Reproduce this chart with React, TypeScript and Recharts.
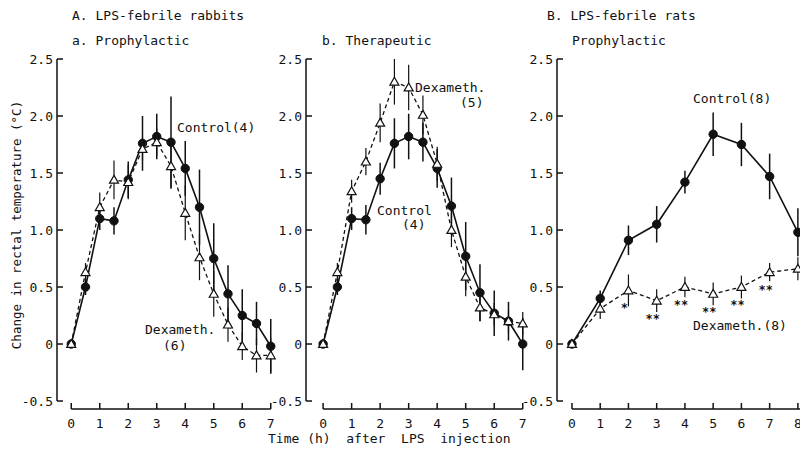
import React from 'react';
import { LineChart, Line, XAxis, YAxis, ErrorBar, ReferenceLine, LabelList } from 'recharts';

// time points (h after LPS injection)
const rabbitTimes = [0, 0.5, 1, 1.5, 2, 2.5, 3, 3.5, 4, 4.5, 5, 5.5, 6, 6.5, 7];
const ratTimes = [0, 1, 2, 3, 4, 5, 6, 7, 8];

// A-a. rabbits, prophylactic
const prophCtrl = [0, 0.5, 1.1, 1.08, 1.44, 1.76, 1.82, 1.77, 1.54, 1.2, 0.75, 0.44, 0.25, 0.18, -0.02];
const prophCtrlSE = [0, 0.07, 0.1, 0.12, 0.16, 0.24, 0.2, 0.4, 0.24, 0.33, 0.31, 0.25, 0.23, 0.19, 0.24];
const prophDex = [0, 0.63, 1.2, 1.44, 1.42, 1.71, 1.77, 1.56, 1.15, 0.76, 0.44, 0.17, -0.02, -0.1, -0.1];
const prophDexSE = [0, 0.08, 0.13, 0.17, 0.15, 0.1, 0.12, 0.2, 0.24, 0.2, 0.2, 0.15, 0.12, 0.15, 0.15];

// A-b. rabbits, therapeutic
const therCtrl = [0, 0.5, 1.1, 1.09, 1.45, 1.76, 1.82, 1.77, 1.54, 1.21, 0.77, 0.45, 0.27, 0.2, 0];
const therCtrlSE = [0, 0.07, 0.1, 0.13, 0.14, 0.22, 0.2, 0.17, 0.17, 0.25, 0.3, 0.25, 0.2, 0.17, 0.23];
const therDex = [0, 0.63, 1.34, 1.6, 1.94, 2.3, 2.25, 2.01, 1.58, 1.0, 0.59, 0.32, 0.26, 0.2, 0.18];
const therDexSE = [0, 0.08, 0.1, 0.12, 0.17, 0.2, 0.2, 0.17, 0.15, 0.15, 0.17, 0.12, 0.1, 0.1, 0.1];

// B. rats, prophylactic
const ratCtrl = [0, 0.4, 0.91, 1.05, 1.42, 1.84, 1.75, 1.47, 0.98];
const ratCtrlSE = [0, 0.07, 0.13, 0.16, 0.1, 0.19, 0.19, 0.2, 0.21];
const ratDex = [0, 0.31, 0.47, 0.38, 0.5, 0.44, 0.5, 0.63, 0.66];
const ratDexSE = [0, 0.09, 0.14, 0.1, 0.09, 0.1, 0.1, 0.08, 0.1];
const ratSig = ['', '', '*', '**', '**', '**', '**', '**', ''];

const yTicks = [-0.5, 0, 0.5, 1.0, 1.5, 2.0, 2.5];
const rabbitTicks = [0, 1, 2, 3, 4, 5, 6, 7];
const ratTicks = [0, 1, 2, 3, 4, 5, 6, 7, 8];

const INK = '#111';
const FONT = '"DejaVu Sans Mono", "Liberation Mono", monospace';
const Y_MIN = -0.57;

const rabbitRows = (ctrl: number[], ctrlSE: number[], dex: number[], dexSE: number[]) =>
  rabbitTimes.map((t, i) => ({ t, ctrl: ctrl[i], ctrlSE: ctrlSE[i], dex: dex[i], dexSE: dexSE[i] }));

const ratRows = ratTimes.map((t, i) => ({
  t, ctrl: ratCtrl[i], ctrlSE: ratCtrlSE[i], dex: ratDex[i], dexSE: ratDexSE[i], sig: ratSig[i],
}));

const XTick = (props: any) => {
  const { x, y, payload } = props;
  return (
    <g>
      <line x1={x} x2={x} y1={y - 6} y2={y} stroke={INK} strokeWidth={1.5} />
      <text x={x} y={y + 14} textAnchor="middle" dominantBaseline="central" fontFamily={FONT} fontSize={13} fill={INK}>
        {payload.value}
      </text>
    </g>
  );
};

const YTick = (props: any) => {
  const { x, y, payload } = props;
  const v = payload.value;
  return (
    <g>
      <line x1={x} x2={x + 6} y1={y} y2={y} stroke={INK} strokeWidth={1.5} />
      <text x={x - 4} y={y} textAnchor="end" dominantBaseline="central" fontFamily={FONT} fontSize={13} fill={INK}>
        {v === 0 ? '0' : v.toFixed(1)}
      </text>
    </g>
  );
};

const FilledDot = (props: any) => {
  const { cx, cy, index } = props;
  if (cx == null || cy == null) return <g key={index} />;
  return <circle key={index} cx={cx} cy={cy} r={4.2} fill={INK} stroke={INK} />;
};

const TriangleDot = (props: any) => {
  const { cx, cy, index } = props;
  if (cx == null || cy == null) return <g key={index} />;
  const s = 4.5;
  return (
    <path
      key={index}
      d={`M${cx},${cy - s} L${cx + s},${cy + s * 0.75} L${cx - s},${cy + s * 0.75} Z`}
      fill="#fff"
      stroke={INK}
      strokeWidth={1.2}
    />
  );
};

const SigLabel = (props: any) => {
  const { x, y, value } = props;
  if (!value) return null;
  return (
    <text x={x - 4} y={y + 18} textAnchor="middle" dominantBaseline="central" fontFamily={FONT}
      fontSize={12} fontWeight="bold" style={{ fill: INK }}>
      {value}
    </text>
  );
};

interface PanelProps {
  left: number;
  width: number;
  axisWidth: number;
  rightMargin: number;
  domain: [number, number];
  ticks: number[];
  lineEnd: number;
  data: any[];
  stars?: boolean;
}

const Panel: React.FC<PanelProps> = ({ left, width, axisWidth, rightMargin, domain, ticks, lineEnd, data, stars }) => (
  <div style={{ position: 'absolute', left, top: 0 }}>
    <LineChart width={width} height={451} data={data} margin={{ top: 59, right: rightMargin, bottom: 0, left: 0 }}>
      <XAxis
        type="number"
        dataKey="t"
        domain={domain}
        ticks={ticks}
        allowDataOverflow
        height={42}
        axisLine={false}
        tickLine={false}
        tickSize={0}
        tickMargin={0}
        tick={XTick}
        interval={0}
      />
      <YAxis
        type="number"
        domain={[Y_MIN, 2.5]}
        ticks={yTicks}
        allowDataOverflow
        width={axisWidth}
        axisLine={false}
        tickLine={false}
        tickSize={0}
        tickMargin={0}
        tick={YTick}
        interval={0}
      />
      <ReferenceLine
        segment={[{ x: domain[0], y: -0.5 }, { x: domain[0], y: 2.5 }]}
        stroke={INK}
        strokeWidth={1.5}
        ifOverflow="visible"
      />
      <ReferenceLine
        segment={[{ x: 0, y: Y_MIN }, { x: lineEnd, y: Y_MIN }]}
        stroke={INK}
        strokeWidth={1.5}
        ifOverflow="visible"
      />
      <Line
        dataKey="ctrl"
        type="linear"
        stroke={INK}
        strokeWidth={1.6}
        dot={FilledDot}
        activeDot={false}
        isAnimationActive={false}
      >
        <ErrorBar dataKey="ctrlSE" width={0} stroke={INK} strokeWidth={1.5} direction="y" />
      </Line>
      <Line
        dataKey="dex"
        type="linear"
        stroke={INK}
        strokeWidth={1.3}
        strokeDasharray="4 3"
        dot={TriangleDot}
        activeDot={false}
        isAnimationActive={false}
      >
        <ErrorBar dataKey="dexSE" width={0} stroke={INK} strokeWidth={1.2} direction="y" />
        {stars && <LabelList dataKey="sig" content={SigLabel} />}
      </Line>
    </LineChart>
  </div>
);

const txt = { fontFamily: FONT, fontSize: 13, fill: INK } as const;

export default function App() {
  return (
    <div style={{ position: 'absolute', left: 0, top: 0, width: 800, height: 451, overflow: 'hidden', background: '#fff' }}>
      <Panel left={0} width={290} axisWidth={57} rightMargin={5} domain={[-0.5, 7.5]} ticks={rabbitTicks} lineEnd={7}
        data={rabbitRows(prophCtrl, prophCtrlSE, prophDex, prophDexSE)} />
      <Panel left={250} width={300} axisWidth={56} rightMargin={13} domain={[-0.6, 7.5]} ticks={rabbitTicks} lineEnd={7}
        data={rabbitRows(therCtrl, therCtrlSE, therDex, therDexSE)} />
      <Panel left={510} width={310} axisWidth={47} rightMargin={8} domain={[-0.53, 8.5]} ticks={ratTicks} lineEnd={8.5}
        data={ratRows} stars />
      <svg width={800} height={451} style={{ position: 'absolute', left: 0, top: 0, pointerEvents: 'none' }}>
        <g dominantBaseline="central" {...txt}>
          <text x={72} y={15}>A. LPS-febrile rabbits</text>
          <text x={72} y={40}>a. Prophylactic</text>
          <text x={322} y={40}>b. Therapeutic</text>
          <text x={547} y={15}>B. LPS-febrile rats</text>
          <text x={572} y={40}>Prophylactic</text>
          <text x={177} y={127}>Control(4)</text>
          <text x={145} y={329}>Dexameth.</text>
          <text x={163} y={345}>(6)</text>
          <text x={415} y={87}>Dexameth.</text>
          <text x={460} y={102}>(5)</text>
          <text x={377} y={210}>Control</text>
          <text x={402} y={224}>(4)</text>
          <text x={693} y={98}>Control(8)</text>
          <text x={693} y={325}>Dexameth.(8)</text>
          <text x={268} y={438} style={{ whiteSpace: 'pre' }}>{'Time (h)  after  LPS  injection'}</text>
          <text x={16} y={225} textAnchor="middle" fontSize={12.5} transform="rotate(-90 16 225)">
            Change in rectal temperature (°C)
          </text>
        </g>
      </svg>
    </div>
  );
}
